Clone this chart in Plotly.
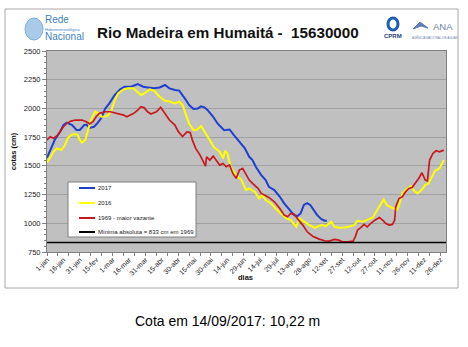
import plotly.graph_objects as go

# ---------------- data ----------------
tick_days = [0, 15, 30, 45, 60, 75, 90, 105, 120, 135, 150, 165, 180, 195, 210,
             225, 240, 255, 270, 285, 300, 315, 330, 345, 360]
tick_labels = ["1-jan", "16-jan", "31-jan", "15-fev", "1-mar", "16-mar", "31-mar",
               "15-abr", "30-abr", "15-mai", "30-mai", "14-jun", "29-jun", "14-jul",
               "29-jul", "13-ago", "28-ago", "12-set", "27-set", "12-out", "27-out",
               "11-nov", "26-nov", "11-dez", "26-dez"]

days_2017 = [0, 4, 7, 12, 15, 18, 23, 27, 30, 34, 36, 39, 43, 46, 50, 53, 57, 62, 67, 71,
             77, 83, 88, 92, 98, 103, 108, 112, 117, 121, 124, 127, 130, 134, 138, 141,
             144, 147, 152, 156, 162, 167, 171, 176, 181, 185, 188, 191, 196, 200, 203,
             208, 213, 217, 222, 226, 229, 232, 235, 238, 241, 244, 247, 251, 254, 256]
cota_2017 = [1570, 1650, 1725, 1797, 1855, 1876, 1855, 1812, 1812, 1855, 1860, 1830, 1840,
             1870, 1920, 1995, 2044, 2117, 2166, 2189, 2189, 2212, 2189, 2183, 2175, 2183,
             2204, 2175, 2160, 2155, 2120, 2075, 2030, 1995, 2000, 2018, 2010, 1985, 1927,
             1869, 1811, 1817, 1768, 1710, 1652, 1579, 1550, 1492, 1420, 1376, 1318, 1289,
             1231, 1173, 1115, 1071, 1063, 1086, 1160, 1175, 1158, 1120, 1073, 1035, 1022,
             1022]

days_2016 = [0, 3, 6, 9, 13, 16, 19, 22, 25, 28, 30, 32, 35, 38, 41, 44, 47, 50, 53, 56,
             59, 62, 65, 70, 74, 79, 83, 86, 89, 94, 98, 103, 108, 112, 117, 121, 124, 127,
             130, 134, 137, 141, 144, 149, 153, 158, 161, 163, 165, 168, 173, 178, 182,
             185, 190, 194, 197, 200, 205, 209, 214, 219, 223, 228, 231, 235, 240, 245,
             251, 255, 260, 263, 267, 272, 276, 281, 284, 289, 293, 298, 302, 305, 308,
             311, 316, 320, 322, 325, 328, 333, 336, 339, 343, 346, 349, 352, 355, 359, 363]
cota_2016 = [1528, 1580, 1623, 1652, 1638, 1673, 1739, 1768, 1777, 1770, 1725, 1702, 1725,
             1826, 1913, 1971, 1957, 1928, 1930, 1942, 1986, 2073, 2131, 2166, 2175, 2175,
             2146, 2117, 2131, 2166, 2154, 2102, 2067, 2060, 2044, 2058, 2029, 1942, 1869,
             1811, 1815, 1846, 1797, 1724, 1660, 1623, 1565, 1631, 1608, 1492, 1420, 1376,
             1289, 1304, 1275, 1216, 1246, 1202, 1173, 1129, 1086, 1042, 1028, 970, 1042,
             1013, 984, 960, 984, 975, 1013, 969, 961, 963, 969, 984, 1022, 1013, 1027, 1051,
             1114, 1167, 1207, 1158, 1135, 1114, 1158, 1260, 1289, 1323, 1280, 1260, 1294,
             1332, 1347, 1405, 1457, 1477, 1550]

days_1969 = [0, 3, 6, 9, 12, 15, 18, 22, 26, 32, 36, 39, 42, 45, 48, 53, 58, 61, 65, 70,
             73, 76, 79, 83, 86, 89, 92, 95, 100, 104, 108, 112, 117, 120, 124, 128, 131,
             133, 136, 140, 143, 145, 146, 149, 152, 155, 158, 161, 164, 167, 170, 173,
             176, 179, 182, 185, 188, 193, 196, 199, 203, 208, 213, 217, 220, 223, 226,
             229, 234, 238, 243, 249, 254, 258, 263, 267, 270, 275, 280, 282, 284, 287,
             290, 293, 296, 300, 304, 307, 310, 313, 316, 318, 319, 322, 325, 328, 331,
             334, 337, 340, 343, 346, 348, 350, 353, 356, 359, 363]
cota_1969 = [1725, 1754, 1740, 1760, 1797, 1841, 1870, 1890, 1899, 1899, 1884, 1864, 1885,
             1928, 1957, 1971, 1971, 1965, 1957, 1942, 1928, 1942, 1955, 1986, 2015, 2005,
             1971, 1951, 1971, 2009, 1957, 1899, 1855, 1800, 1755, 1795, 1790, 1724, 1652,
             1594, 1536, 1498, 1579, 1550, 1585, 1550, 1507, 1521, 1492, 1507, 1434, 1391,
             1463, 1478, 1420, 1376, 1347, 1304, 1260, 1246, 1225, 1187, 1129, 1071, 1057,
             1086, 1080, 1042, 984, 926, 888, 862, 848, 845, 859, 853, 839, 839, 845, 882,
             940, 963, 990, 969, 998, 1027, 1051, 1027, 998, 984, 990, 1027, 1143, 1216,
             1231, 1274, 1303, 1312, 1347, 1390, 1440, 1376, 1370, 1550, 1608, 1631, 1622,
             1637]

min_abs_days = [0, 365]
min_abs_cota = [833, 833]

series_names = ["2017", "2016", "1969 - maior vazante", "Mínima absoluta = 833 cm em 1969"]
series_colors = ["#1F3FD0", "#FFFF00", "#C8191E", "#000000"]

# ---------------- layout helpers (pixel -> paper) ----------------
L, R, T, B = 47, 446, 51, 252


def fx(px):
    return (px - L) / (R - L)


def fy(py):
    return (B - py) / (B - T)


FONT = "Liberation Sans, Arial, sans-serif"

fig = go.Figure()
for d, v, name, col, w in [
    (days_2017, cota_2017, series_names[0], series_colors[0], 2),
    (days_2016, cota_2016, series_names[1], series_colors[1], 2),
    (days_1969, cota_1969, series_names[2], series_colors[2], 1.7),
    (min_abs_days, min_abs_cota, series_names[3], series_colors[3], 1.6),
]:
    fig.add_trace(go.Scatter(x=d, y=v, mode="lines", name=name,
                             line=dict(color=col, width=w), showlegend=False))

shapes = []
annotations = []

# outer frame
shapes.append(dict(type="rect", xref="paper", yref="paper",
                   x0=fx(5), x1=fx(458), y0=fy(288), y1=fy(9),
                   line=dict(color="#A8A8A8", width=1), layer="below"))

# manual legend box
shapes.append(dict(type="rect", xref="paper", yref="paper",
                   x0=fx(68), x1=fx(196), y0=fy(237), y1=fy(182),
                   fillcolor="white", line=dict(color="#808080", width=1)))
leg_rows = [188, 203, 218, 232]
for i, yy in enumerate(leg_rows):
    shapes.append(dict(type="line", xref="paper", yref="paper",
                       x0=fx(79), x1=fx(95), y0=fy(yy), y1=fy(yy),
                       line=dict(color=series_colors[i], width=2)))
    annotations.append(dict(xref="paper", yref="paper", x=fx(95.5), y=fy(yy),
                            text=series_names[i], showarrow=False, xanchor="left",
                            yanchor="middle", font=dict(family=FONT, size=6, color="#222")))

# title
annotations.append(dict(xref="paper", yref="paper", x=fx(228), y=fy(32),
                        text="<b>Rio Madeira em Humaitá -  15630000</b>", showarrow=False,
                        xanchor="center", yanchor="middle",
                        font=dict(family=FONT, size=15.2, color="#111")))

# Rede Hidrometeorológica Nacional logo
shapes.append(dict(type="circle", xref="paper", yref="paper",
                   x0=fx(25), x1=fx(43), y0=fy(40), y1=fy(18),
                   fillcolor="#A9CBE8", line=dict(color="#7FB0DC", width=1)))
annotations.append(dict(xref="paper", yref="paper", x=fx(43), y=fy(20), text="Rede",
                        showarrow=False, xanchor="left", yanchor="middle",
                        font=dict(family=FONT, size=10, color="#3F7FC0")))
annotations.append(dict(xref="paper", yref="paper", x=fx(43), y=fy(29),
                        text="Hidrometeorológica", showarrow=False, xanchor="left",
                        yanchor="middle", font=dict(family=FONT, size=4, color="#3F7FC0")))
annotations.append(dict(xref="paper", yref="paper", x=fx(43), y=fy(36), text="Nacional",
                        showarrow=False, xanchor="left", yanchor="middle",
                        font=dict(family=FONT, size=10, color="#3F7FC0")))

# CPRM logo
shapes.append(dict(type="circle", xref="paper", yref="paper",
                   x0=fx(388), x1=fx(398), y0=fy(30), y1=fy(18),
                   fillcolor="white", line=dict(color="#1E5FB4", width=3)))
annotations.append(dict(xref="paper", yref="paper", x=fx(393), y=fy(36), text="<b>CPRM</b>",
                        showarrow=False, xanchor="center", yanchor="middle",
                        font=dict(family=FONT, size=6, color="#1E3F7A")))

# ANA logo
shapes.append(dict(type="path", xref="paper", yref="paper",
                   path=f"M {fx(413)},{fy(29)} L {fx(420)},{fy(22)} L {fx(428)},{fy(28)} "
                        f"L {fx(421)},{fy(26)} Z",
                   fillcolor="#5E7DB8", line=dict(color="#5E7DB8", width=1)))
annotations.append(dict(xref="paper", yref="paper", x=fx(443), y=fy(26), text="ANA",
                        showarrow=False, xanchor="center", yanchor="middle",
                        font=dict(family=FONT, size=9.5, color="#6F7FA8")))
annotations.append(dict(xref="paper", yref="paper", x=fx(435), y=fy(37),
                        text="AGÊNCIA NACIONAL DE ÁGUAS", showarrow=False,
                        xanchor="center", yanchor="middle",
                        font=dict(family=FONT, size=3, color="#6F7FA8")))

# x axis title
annotations.append(dict(xref="paper", yref="paper", x=fx(245), y=fy(277), text="<b>dias</b>",
                        showarrow=False, xanchor="center", yanchor="middle",
                        font=dict(family=FONT, size=7.5, color="#111")))

# bottom caption
annotations.append(dict(xref="paper", yref="paper", x=fx(227), y=fy(321),
                        text="Cota em 14/09/2017: 10,22 m", showarrow=False,
                        xanchor="center", yanchor="middle",
                        font=dict(family=FONT, size=14, color="#000")))

fig.update_layout(
    width=468, height=347,
    margin=dict(l=L, r=468 - R, t=T, b=347 - B, pad=0),
    paper_bgcolor="white", plot_bgcolor="#C0C0C0",
    font=dict(family=FONT, color="#222"),
    shapes=shapes, annotations=annotations,
    showlegend=False,
)

fig.update_xaxes(
    range=[0, 365], tickmode="array", tickvals=tick_days, ticktext=tick_labels,
    tickangle=-45, tickfont=dict(family=FONT, size=7, color="#222"),
    showgrid=False, zeroline=False,
    showline=True, linecolor="#808080", linewidth=1, mirror=True,
    ticks="outside", ticklen=0, tickcolor="#808080",
    minor=dict(tick0=0, dtick=10, ticks="outside", ticklen=3, tickcolor="#808080",
               showgrid=False),
)
fig.update_yaxes(
    range=[750, 2500], tickmode="linear", tick0=750, dtick=250,
    tickfont=dict(family=FONT, size=7.5, color="#222"),
    showgrid=True, gridcolor="#A0A0A0", gridwidth=1, zeroline=False,
    showline=True, linecolor="#808080", linewidth=1, mirror=True,
    ticks="outside", ticklen=4, tickcolor="#808080",
    minor=dict(dtick=50, ticks="outside", ticklen=2, tickcolor="#808080", showgrid=False),
    title=dict(text="<b>cotas (cm)</b>", font=dict(family=FONT, size=7.5, color="#111"),
               standoff=6),
)

fig.write_html("out.html")
